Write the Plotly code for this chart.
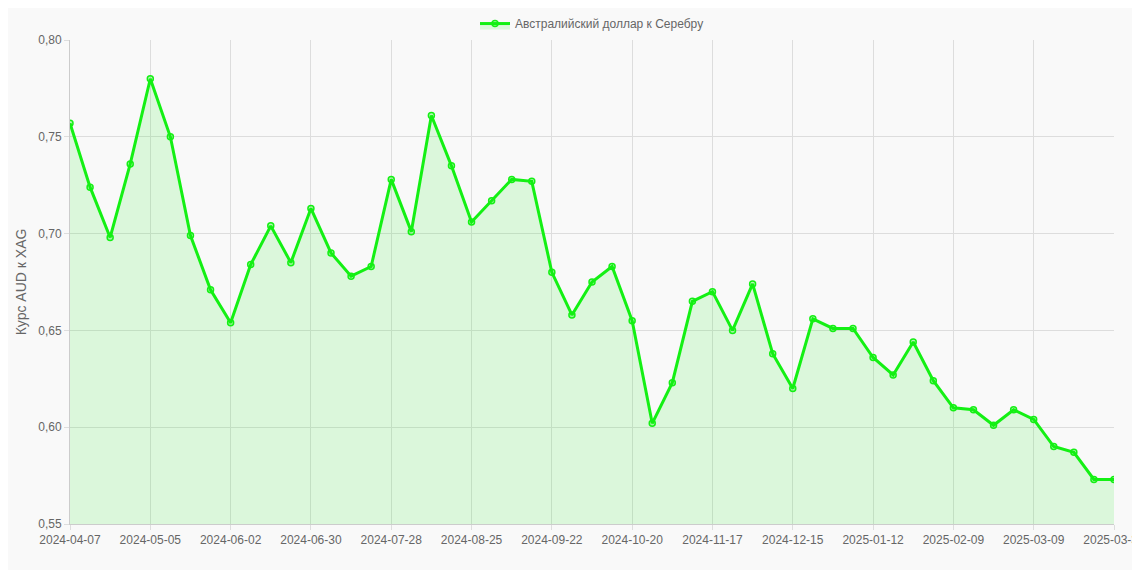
import plotly.graph_objects as go

dates = ["2024-04-07","2024-04-14","2024-04-21","2024-04-28","2024-05-05","2024-05-12","2024-05-19","2024-05-26",
"2024-06-02","2024-06-09","2024-06-16","2024-06-23","2024-06-30","2024-07-07","2024-07-14","2024-07-21","2024-07-28",
"2024-08-04","2024-08-11","2024-08-18","2024-08-25","2024-09-01","2024-09-08","2024-09-15","2024-09-22","2024-09-29",
"2024-10-06","2024-10-13","2024-10-20","2024-10-27","2024-11-03","2024-11-10","2024-11-17","2024-11-24","2024-12-01",
"2024-12-08","2024-12-15","2024-12-22","2024-12-29","2025-01-05","2025-01-12","2025-01-19","2025-01-26","2025-02-02",
"2025-02-09","2025-02-16","2025-02-23","2025-03-02","2025-03-09","2025-03-16","2025-03-23","2025-03-30","2025-03-31"]
values = [0.757,0.724,0.698,0.736,0.780,0.750,0.699,0.671,0.654,0.684,0.704,0.685,0.713,0.690,0.678,0.683,0.728,
0.701,0.761,0.735,0.706,0.717,0.728,0.727,0.680,0.658,0.675,0.683,0.655,0.602,0.623,0.665,0.670,0.650,0.674,
0.638,0.620,0.656,0.651,0.651,0.636,0.627,0.644,0.624,0.610,0.609,0.601,0.609,0.604,0.590,0.587,0.573,0.573]
tick_labels = dates[::4] + [dates[-1]]
y_ticks = [0.55, 0.60, 0.65, 0.70, 0.75, 0.80]

fig = go.Figure(go.Scatter(
    x=dates, y=values, name="Австралийский доллар к Серебру", mode="lines+markers",
    line=dict(color="rgb(20,240,20)", width=3),
    marker=dict(size=6, color="rgba(20,240,20,0.3)", line=dict(color="rgb(20,240,20)", width=1.5)),
    fill="tozeroy", fillcolor="rgba(20,240,20,0.13)"))
fig.update_layout(
    width=1140, height=570, paper_bgcolor="#f9f9f9", plot_bgcolor="#f9f9f9",
    margin=dict(l=62, r=34, t=32, b=54, autoexpand=False), separators=", ",
    font=dict(family="Liberation Sans, Arial, sans-serif", size=12, color="#666"),
    showlegend=True,
    legend=dict(orientation="h", x=0.5, xanchor="center", y=1.034, yanchor="middle",
                font=dict(size=12, color="#666"), bgcolor="rgba(0,0,0,0)"),
    xaxis=dict(type="category", tickvals=tick_labels, ticktext=tick_labels, tickangle=0, automargin=False,
               showgrid=True, gridcolor="#ddd", linecolor="#ccc", ticks="outside", ticklen=5, tickcolor="#ddd",
               range=[0, len(dates)-1]),
    yaxis=dict(range=[0.55, 0.80], tickvals=y_ticks, tickformat=".2f", showgrid=True, gridcolor="#ddd",
               automargin=False, linecolor="#ccc", ticks="outside", ticklen=5, tickcolor="#ddd",
               title=dict(text="Курс AUD к XAG", font=dict(size=14, color="#666"), standoff=8)),
)
fig.write_html("out.html")
